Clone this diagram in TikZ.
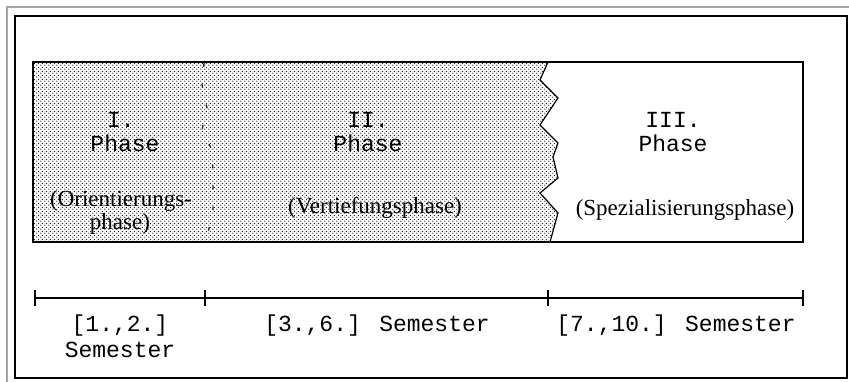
\documentclass[tikz,border=0pt]{standalone}
\usepackage{fontspec}
\setmainfont{Liberation Serif}
\newfontfamily\courfont{Liberation Mono}
\usetikzlibrary{patterns}
\pgfdeclarepatternformonly{halftone}{\pgfpointorigin}{\pgfpoint{4pt}{4pt}}{\pgfpoint{4pt}{4pt}}{%
  \pgfpathcircle{\pgfpoint{1pt}{1pt}}{0.75pt}%
  \pgfpathcircle{\pgfpoint{3pt}{3pt}}{0.75pt}%
  \pgfusepath{fill}}
\tikzset{
  mono/.style={inner sep=0pt, font=\courfont\fontsize{23}{25}\selectfont},
  serif/.style={inner sep=0pt, font=\fontsize{23}{25}\selectfont},
  frameline/.style={line width=1.2pt, black},
  tick/.style={line width=1.3pt}
}
\begin{document}
\begin{tikzpicture}[x=1pt,y=-1pt]
\useasboundingbox (0,0) rectangle (849,382);
\fill[white] (0,0) rectangle (849,382);
% window frame
\draw[gray!70, line width=2pt] (7,382) -- (7,7) -- (849,7);
\draw[line width=2pt] (15,16) rectangle (846.5,378);
% shaded area
\fill[pattern=halftone, pattern color=black] (33,62) -- (548,62) -- (540,80) -- (558,98) -- (540,125) -- (558,143) -- (553,157) -- (558,178) -- (540,193) -- (558,213) -- (550,242) -- (33,242) -- cycle;
\draw[frameline] (33,62) rectangle (803,242);
\draw[frameline] (548,62) -- (540,80) -- (558,98) -- (540,125) -- (558,143) -- (553,157) -- (558,178) -- (540,193) -- (558,213) -- (550,242);
\draw[line width=1.3pt, dash pattern=on 4pt off 17pt, black!85] (204,63) -- (202,85) -- (207,108) -- (202,130) -- (212,150) -- (213,175) -- (213,215) -- (205,242);
% phase texts
\node[mono] (p1a) at (121,120) {I.};
\node[mono] (p1b) at (125,143) {Phase};
\node[serif] (p1c) at (121,201) {(Orientierungs-};
\node[serif] (p1d) at (120,224) {phase)};
\node[mono] (p2a) at (368,120) {II.};
\node[mono] (p2b) at (368,143) {Phase};
\node[serif] (p2c) at (375,208) {(Vertiefungsphase)};
\node[mono] (p3a) at (673,120) {III.};
\node[mono] (p3b) at (673,143) {Phase};
\node[serif] (p3c) at (685,210) {(Spezialisierungsphase)};
% timeline
\coordinate (t0) at (35,298);
\coordinate (t1) at (205,298);
\coordinate (t2) at (548,298);
\coordinate (t3) at (803,298);
\draw[tick] (t0) -- (t3);
\foreach \t in {t0,t1,t2,t3} \draw[tick] ([yshift=-8pt]\t) -- ([yshift=8pt]\t);
\node[mono] (s1a) at (120,326) {[1.,2.]};
\node[mono] (s1b) at (120,350) {Semester};
\node[mono] (s2) at (377,326) {[3.,6.] Semester};
\node[mono] (s3) at (676,326) {[7.,10.] Semester};
\end{tikzpicture}
\end{document}
